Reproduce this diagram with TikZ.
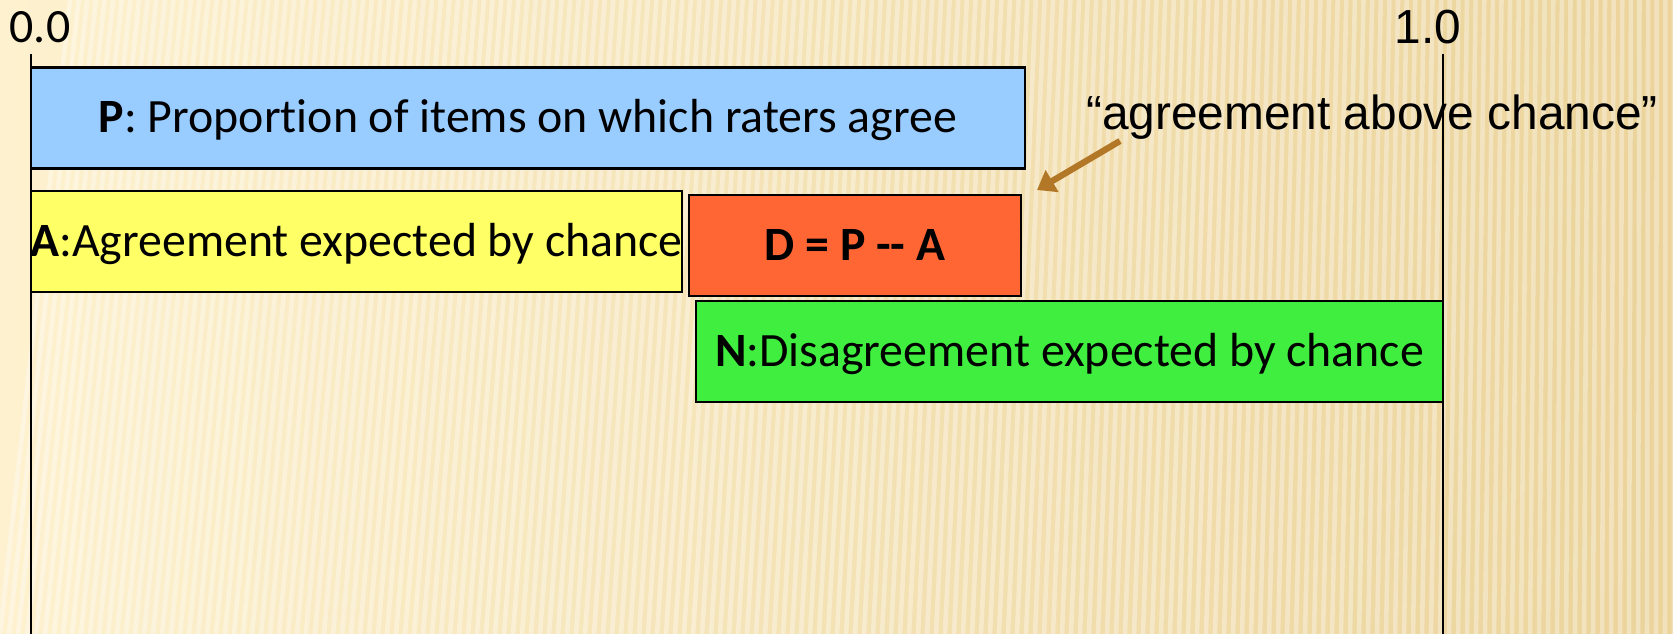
\documentclass[tikz,border=0pt]{standalone}
\usepackage{fontspec}
\setmainfont{Carlito}[Ligatures=NoCommon]
\newfontfamily\arialfont{Liberation Sans}
\usetikzlibrary{arrows.meta}
\definecolor{woodlight}{HTML}{FDF1CF}
\definecolor{wooddark}{HTML}{EBD39A}
\definecolor{pblue}{HTML}{99CCFF}
\definecolor{ayellow}{HTML}{FFFF66}
\definecolor{dred}{HTML}{FF6633}
\definecolor{ngreen}{HTML}{40EE40}
\definecolor{arrowbrown}{HTML}{B27828}

\begin{document}
\begin{tikzpicture}[x=0.01cm, y=-0.01cm,
  every node/.style={font=\fontsize{13.6pt}{16pt}\selectfont, inner sep=0pt},
  bar/.style={draw, line width=0.6pt, minimum height=1.01cm,
    text height=0.84em, text depth=0pt},
  axis/.style={line width=0.6pt},
  callarrow/.style={arrowbrown, line width=1.8pt, -{Triangle[length=5pt, width=7pt]}}]
\useasboundingbox (0,0) rectangle (1673,634);
% Background
\begin{scope}
\clip (0,0) rectangle (1673,634);
\shade[left color=woodlight, right color=wooddark] (0,0) rectangle (1673,634);
\foreach \i in {0,9,...,1700} {
  \pgfmathsetmacro{\s}{70*(1-\i/1673)}
  \draw[white, opacity=0.35, line width=1.3pt] (\i+\s,0) -- (\i,634);
}
\end{scope}

% Scale
\node (zero) at (40,27) {0.0};
\node[font=\arialfont\fontsize{13.6pt}{16pt}\selectfont] (one) at (1428,27) {1.0};
\coordinate (z0) at (31,54);
\coordinate (z1) at (31,634);
\coordinate (o0) at (1443,54);
\coordinate (o1) at (1443,634);
\draw[axis] (z0) -- (z1);
\draw[axis] (o0) -- (o1);

% Bars
\node[bar, fill=pblue, minimum width=9.94cm] (P) at (528,118)
  {\textbf{P}: Proportion of items on which raters agree};
\node[bar, fill=ayellow, minimum width=6.51cm] (A) at (356.5,241.5)
  {\makebox[0pt]{\textbf{A}:Agreement expected by chance}};
\node[bar, fill=dred, minimum width=3.32cm] (D) at (855,245.5)
  {\textbf{D = P {-}{-} A}};
\node[bar, fill=ngreen, minimum width=7.47cm] (N) at (1069.5,351.5)
  {\textbf{N}:Disagreement expected by chance};

% Callout
\node[font=\arialfont\fontsize{13.6pt}{16pt}\selectfont] (chance) at (1372,117)
  {“agreement above chance”};
\coordinate (tail) at (1120,141);
\coordinate (tip) at (1037,190);
\draw[callarrow] (tail) -- (tip);

\end{tikzpicture}
\end{document}
